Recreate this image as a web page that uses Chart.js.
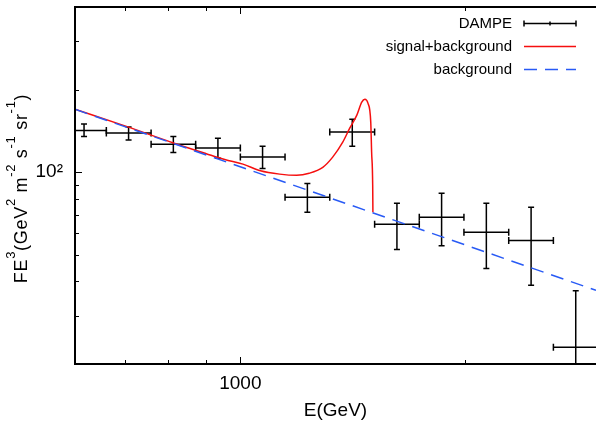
<!DOCTYPE html>
<html>
<head>
<meta charset="utf-8">
<script src="https://cdn.jsdelivr.net/npm/chart.js@4.4.1/dist/chart.umd.min.js"></script>
<style>
  body { margin: 0; background: #fff; }
  canvas { display: block; }
</style>
</head>
<body>
<canvas id="chartDampe" width="596" height="424"></canvas>
<script>
// DAMPE points: bin centre, bin edges (GeV), E^3 flux and its 1 sigma range
var dampeE   = [617, 708, 813, 933, 1071, 1230, 1413, 1622, 1862, 2138, 2455, 2818];
var dampeElo = [575, 661, 759, 871, 1000, 1148, 1318, 1514, 1738, 1995, 2291, 2630];
var dampeEhi = [661, 759, 871, 1000, 1148, 1318, 1514, 1738, 1995, 2291, 2630, 3020];
var dampeF   = [142, 139, 126.5, 122.5, 113.5, 81, 140, 64.6, 68.5, 60.4, 56.4, 23];
var dampeFlo = [135, 131, 118, 112.5, 103.2, 71.5, 124.4, 52.3, 54, 44.6, 38.7, 12];
var dampeFhi = [150, 146, 135, 133, 124.4, 91, 156, 77, 83.8, 77, 74.5, 37];

// signal+background curve
var sigE = [600, 700, 817, 900, 953, 1008, 1064, 1129, 1190, 1237, 1290, 1330, 1372, 1402, 1433, 1455, 1469, 1483, 1496, 1500, 1505, 1506];
var sigF = [169.5, 147.5, 127.3, 116.8, 111.2, 107, 101.2, 98.4, 97.4, 99.1, 104.2, 113.5, 128.7, 144.7, 161.4, 180.1, 184.6, 178.5, 152.2, 118.4, 89.6, 71.4];

// background (straight line on log-log)
var bgE = [600, 3000];
var bgF = [169.5, 37.1];

var xTicks = [700, 800, 900, 1000, 2000];
var xLabels = { 1000: '1000' };
var yTicks = [30, 40, 50, 60, 70, 80, 90, 100, 200, 300];
var yLabels = { 100: '10\u00b2' };

var yTitle = [['FE', 0], ['3', 1], ['(GeV', 0], ['2', 1], [' m', 0], ['-2', 1], [' s', 0], ['-1', 1], [' sr', 0], ['-1', 1], [')', 0]];

var FONT = '"Liberation Sans", Arial, sans-serif';
var RED = 'rgb(245,15,15)';
var BLUE = 'rgb(40,90,245)';

function pts(xs, ys) {
  return xs.map(function (v, i) { return { x: v, y: ys[i] }; });
}

function noPad(s) {
  s.paddingTop = 0; s.paddingBottom = 0; s.paddingLeft = 0; s.paddingRight = 0;
}

var gnuplotLook = {
  id: 'gnuplotLook',
  beforeDatasetsDraw: function (chart) {
    var c = chart.ctx, a = chart.chartArea;
    var xs = chart.scales.x, ys = chart.scales.y;
    c.save();
    c.beginPath();
    c.rect(a.left, a.top, a.right - a.left, a.bottom - a.top);
    c.clip();
    c.strokeStyle = '#000';
    c.lineWidth = 1.5;
    for (var i = 0; i < dampeE.length; i++) {
      var px = xs.getPixelForValue(dampeE[i]);
      var pl = xs.getPixelForValue(dampeElo[i]);
      var ph = xs.getPixelForValue(dampeEhi[i]);
      var py = ys.getPixelForValue(dampeF[i]);
      var yl = ys.getPixelForValue(dampeFlo[i]);
      var yh = ys.getPixelForValue(dampeFhi[i]);
      c.beginPath();
      c.moveTo(pl, py); c.lineTo(ph, py);
      c.moveTo(pl, py - 3.5); c.lineTo(pl, py + 3.5);
      c.moveTo(ph, py - 3.5); c.lineTo(ph, py + 3.5);
      c.moveTo(px, yh); c.lineTo(px, yl);
      c.moveTo(px - 3, yh); c.lineTo(px + 3, yh);
      c.moveTo(px - 3, yl); c.lineTo(px + 3, yl);
      c.stroke();
    }
    c.restore();
  },
  afterDraw: function (chart) {
    var c = chart.ctx, a = chart.chartArea;
    var xs = chart.scales.x, ys = chart.scales.y;
    var W = chart.width;
    c.save();
    // frame
    c.strokeStyle = '#000';
    c.lineWidth = 2;
    c.beginPath();
    c.moveTo(W, a.top); c.lineTo(a.left, a.top); c.lineTo(a.left, a.bottom); c.lineTo(W, a.bottom);
    c.stroke();
    // inward tick marks
    c.lineWidth = 1;
    c.beginPath();
    xTicks.forEach(function (v) {
      var p = Math.round(xs.getPixelForValue(v)) + 0.5;
      var len = xLabels[v] ? 7 : 4;
      c.moveTo(p, a.bottom); c.lineTo(p, a.bottom - len);
      c.moveTo(p, a.top); c.lineTo(p, a.top + len);
    });
    yTicks.forEach(function (v) {
      var p = Math.round(ys.getPixelForValue(v)) + 0.5;
      var len = yLabels[v] ? 7 : 4;
      c.moveTo(a.left, p); c.lineTo(a.left + len, p);
    });
    c.stroke();

    // y title with superscripts
    c.fillStyle = '#000';
    c.textBaseline = 'alphabetic';
    c.textAlign = 'left';
    c.letterSpacing = '0.7px';
    var big = '18px ' + FONT, small = '13px ' + FONT;
    var total = 0;
    yTitle.forEach(function (p) { c.font = p[1] ? small : big; total += c.measureText(p[0]).width; });
    c.translate(27, 188.5);
    c.rotate(-Math.PI / 2);
    var x = -total / 2;
    yTitle.forEach(function (p) {
      c.font = p[1] ? small : big;
      c.fillText(p[0], x, p[1] ? -12 : 0);
      x += c.measureText(p[0]).width;
    });
    c.setTransform(1, 0, 0, 1, 0, 0);
    c.letterSpacing = '0px';

    // legend, gnuplot style: text right aligned, sample to the right
    var rows = [23.5, 46.5, 69.5];
    c.font = '15px ' + FONT;
    c.textAlign = 'right';
    c.textBaseline = 'middle';
    chart.data.datasets.forEach(function (ds, i) {
      var y = rows[i];
      c.fillStyle = '#000';
      c.fillText(ds.label, 512, y + 0.5);
      c.beginPath();
      if (i === 0) {
        c.strokeStyle = '#000';
        c.lineWidth = 1.5;
        c.moveTo(524, y); c.lineTo(576, y);
        c.moveTo(524, y - 3); c.lineTo(524, y + 3);
        c.moveTo(576, y - 3); c.lineTo(576, y + 3);
        c.moveTo(550, y - 2); c.lineTo(550, y + 2);
      } else {
        c.strokeStyle = ds.borderColor;
        c.lineWidth = 1.5;
        c.setLineDash(ds.borderDash || []);
        c.moveTo(524, y); c.lineTo(576, y);
      }
      c.stroke();
      c.setLineDash([]);
    });
    c.restore();
  }
};

var ctx = document.getElementById('chartDampe');
var chartDampe = new Chart(ctx, {
  type: 'scatter',
  data: {
    datasets: [{
      label: 'DAMPE',
      data: pts(dampeE, dampeF),
      pointRadius: 0,
      showLine: false,
      order: 2
    }, {
      label: 'signal+background',
      data: pts(sigE, sigF),
      showLine: true,
      borderColor: RED,
      borderWidth: 1.5,
      pointRadius: 0,
      cubicInterpolationMode: 'monotone',
      order: 1
    }, {
      label: 'background',
      data: pts(bgE, bgF),
      showLine: true,
      borderColor: BLUE,
      borderWidth: 1.5,
      borderDash: [13, 8],
      pointRadius: 0,
      order: 0
    }]
  },
  options: {
    responsive: false,
    animation: false,
    layout: { padding: { top: 7, right: 0, bottom: 0, left: 0 } },
    plugins: {
      legend: { display: false },
      tooltip: { enabled: false }
    },
    scales: {
      x: {
        type: 'logarithmic',
        min: 600,
        max: 3000,
        afterBuildTicks: function (s) { s.ticks = xTicks.map(function (v) { return { value: v }; }); },
        afterFit: function (s) { s.height = 60; noPad(s); },
        grid: { display: false, drawTicks: false },
        border: { display: false },
        ticks: {
          autoSkip: false,
          maxRotation: 0,
          padding: 8,
          color: '#000',
          font: { family: FONT, size: 19 },
          callback: function (v) { return xLabels[v] || ''; }
        },
        title: {
          display: true,
          text: 'E(GeV)',
          color: '#000',
          font: { family: FONT, size: 19 },
          padding: { top: 0, bottom: 2 }
        }
      },
      y: {
        type: 'logarithmic',
        min: 20,
        max: 400,
        afterBuildTicks: function (s) { s.ticks = yTicks.map(function (v) { return { value: v }; }); },
        afterFit: function (s) { s.width = 75; noPad(s); },
        grid: { display: false, drawTicks: false },
        border: { display: false },
        ticks: {
          autoSkip: false,
          padding: 12,
          color: '#000',
          font: { family: FONT, size: 19 },
          callback: function (v) { return yLabels[v] || ''; }
        }
      }
    }
  },
  plugins: [gnuplotLook]
});
</script>
</body>
</html>
